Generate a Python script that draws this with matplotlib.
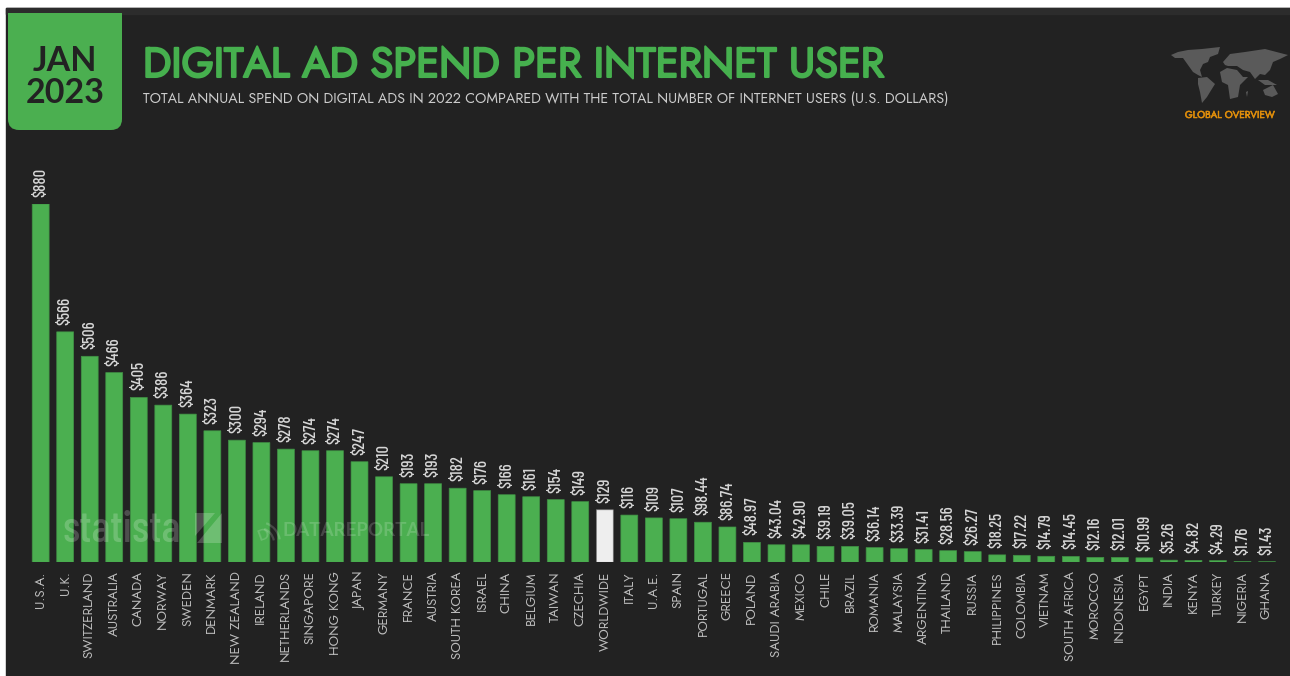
import matplotlib
matplotlib.use('Agg')
from matplotlib import pyplot as plt
from matplotlib import patheffects as pe
from matplotlib.patches import FancyBboxPatch, Polygon, Rectangle, Arc

countries = ['U.S.A.', 'U.K.', 'SWITZERLAND', 'AUSTRALIA', 'CANADA', 'NORWAY', 'SWEDEN',
             'DENMARK', 'NEW ZEALAND', 'IRELAND', 'NETHERLANDS', 'SINGAPORE', 'HONG KONG',
             'JAPAN', 'GERMANY', 'FRANCE', 'AUSTRIA', 'SOUTH KOREA', 'ISRAEL', 'CHINA',
             'BELGIUM', 'TAIWAN', 'CZECHIA', 'WORLDWIDE', 'ITALY', 'U.A.E.', 'SPAIN',
             'PORTUGAL', 'GREECE', 'POLAND', 'SAUDI ARABIA', 'MEXICO', 'CHILE', 'BRAZIL',
             'ROMANIA', 'MALAYSIA', 'ARGENTINA', 'THAILAND', 'RUSSIA', 'PHILIPPINES',
             'COLOMBIA', 'VIETNAM', 'SOUTH AFRICA', 'MOROCCO', 'INDONESIA', 'EGYPT',
             'INDIA', 'KENYA', 'TURKEY', 'NIGERIA', 'GHANA']
spend = [880, 566, 506, 466, 405, 386, 364, 323, 300, 294, 278, 274, 274, 247, 210, 193,
         193, 182, 176, 166, 161, 154, 149, 129, 116, 109, 107, 98.44, 86.74, 48.97, 43.04,
         42.90, 39.19, 39.05, 36.14, 33.39, 31.41, 28.56, 26.27, 18.25, 17.22, 14.79, 14.45,
         12.16, 12.01, 10.99, 5.26, 4.82, 4.29, 1.76, 1.43]

# rough continent outlines for the little map, in header pixels
north_america = [(1171, 55), (1178, 52), (1188, 50), (1202, 49), (1220, 47), (1218, 54), (1210, 57),
                 (1208, 62), (1203, 64), (1200, 70), (1202, 77), (1198, 75), (1193, 72), (1188, 65),
                 (1183, 58), (1175, 58)]
south_america = [(1198, 78), (1207, 77), (1215, 84), (1210, 92), (1207, 97), (1202, 103), (1200, 92), (1198, 84)]
africa = [(1220, 72), (1227, 68), (1237, 70), (1243, 77), (1248, 77), (1240, 85), (1238, 97), (1230, 99),
          (1228, 85), (1222, 82)]
eurasia = [(1223, 62), (1230, 54), (1245, 52), (1265, 49), (1288, 55), (1280, 59), (1273, 62), (1270, 70),
           (1265, 75), (1260, 74), (1255, 79), (1250, 72), (1243, 70), (1237, 66), (1228, 66), (1225, 65)]
australia = [(1263, 90), (1273, 85), (1278, 94), (1272, 97), (1265, 95)]
indonesia = [(1258, 80), (1268, 80), (1277, 85), (1265, 85)]
madagascar = [(1246, 92), (1248, 91), (1247, 97)]

BG = '#222222'
GREEN = '#4BAF50'
W, H = 1290, 676
SANS = ['Jost', 'Lato']
NUMS = ['Barlow Condensed', 'Liberation Sans']


def money(v):
    return f'${v:.0f}' if v >= 100 else f'${v:.2f}'


def fat(color, w):
    return [pe.withStroke(linewidth=w, foreground=color)]


fig = plt.figure(figsize=(W / 100, H / 100), dpi=100, facecolor='white')
fig.add_artist(Rectangle((6 / W, 0), 1, 1 - 8 / H, transform=fig.transFigure, color=BG, zorder=-2))
fig.add_artist(Rectangle((6 / W, 1 - 14 / H), 1, 6 / H, transform=fig.transFigure, color='#2c2c2c', zorder=-1))

# bar axes: index -0.5..50.5 across, 0..880 maps on to pixel rows 562..204
left, right = 28.4, 1279.3
base, top = 562.3, 204.0
ax = fig.add_axes([left / W, 1 - base / H, (right - left) / W, (base - top) / H], zorder=1)
ax.patch.set_alpha(0)
ax.set_xlim(-0.5, len(countries) - 0.5)
ax.set_ylim(0, 880)
for s in ax.spines.values():
    s.set_visible(False)
ax.yaxis.set_visible(False)

colors = ['#EEEEEE' if c == 'WORLDWIDE' else GREEN for c in countries]
edges = ['#777777' if c == 'WORLDWIDE' else '#3f8f44' for c in countries]
bars = ax.bar(range(len(countries)), spend, width=0.69, color=colors, edgecolor=edges, linewidth=0.5)
for b in bars:
    b.set_snap(False)

ax.set_xticks(range(len(countries)))
ax.set_xticklabels(countries, rotation=90, family=SANS, fontsize=9.6, color='#bcbcbc')
ax.tick_params(axis='x', length=0, pad=6.5)

for i, v in enumerate(spend):
    ax.annotate(money(v), (i, v), xytext=(0, 5), textcoords='offset points', rotation=90,
                ha='center', va='bottom', family=NUMS, weight='medium', fontsize=12, color='#d6d6d6',
                annotation_clip=False)

# header and watermarks live in a pixel-coordinate overlay
top_ax = fig.add_axes([0, 0, 1, 1], zorder=2)
top_ax.set_xlim(0, W)
top_ax.set_ylim(H, 0)
top_ax.patch.set_alpha(0)
top_ax.set_axis_off()

tag = FancyBboxPatch((8, -20), 114, 150, boxstyle='round,pad=0,rounding_size=11', color=GREEN, lw=0)
top_ax.add_patch(tag)
tag.set_clip_path(Rectangle((8, 13), 114, 120, transform=top_ax.transData))
top_ax.text(65, 71, 'JAN', ha='center', va='baseline', family='Lato', weight='bold', fontsize=24.5, color=BG)
top_ax.text(65, 103, '2023', ha='center', va='baseline', family='Lato', weight='bold', fontsize=24.5, color=BG)

top_ax.text(143, 77, 'DIGITAL AD SPEND PER INTERNET USER', ha='left', va='baseline', family=SANS,
            fontsize=30, color='#46B04E', path_effects=fat('#46B04E', 1.5))
top_ax.text(143, 103, 'TOTAL ANNUAL SPEND ON DIGITAL ADS IN 2022 COMPARED WITH THE TOTAL NUMBER OF INTERNET USERS (U.S. DOLLARS)',
            ha='left', va='baseline', family=SANS, fontsize=10.3, color='#cccccc')

for shape in [north_america, south_america, africa, eurasia, australia, indonesia, madagascar]:
    top_ax.add_patch(Polygon(shape, closed=True, color='#5a5a5a', lw=0))
top_ax.text(1229.5, 115, 'GLOBAL OVERVIEW', ha='center', va='center', family=SANS,
            fontsize=7.2, color='#E08E0B', path_effects=fat('#E08E0B', 0.4))

# faint statista / datareportal marks over the first bars
top_ax.text(63, 530, 'statista', ha='left', va='center', family=NUMS, weight='medium', fontsize=32,
            color='white', alpha=0.2)
top_ax.add_patch(Polygon([(195, 513), (215, 513), (195, 536)], closed=True, color='white', alpha=0.2, lw=0))
top_ax.add_patch(Polygon([(222, 513), (222, 543), (197, 543)], closed=True, color='white', alpha=0.2, lw=0))
top_ax.text(283, 531, 'DATAREPORTAL', ha='left', va='center', family='Lato', weight='bold', fontsize=13.5,
            color='white', alpha=0.17)
top_ax.text(264, 535, 'D', ha='center', va='center', rotation=20, family='Lato', weight='bold', fontsize=11,
            color='white', alpha=0.17)
for r in (30, 42):
    top_ax.add_patch(Arc((259, 543), r, r, theta1=290, theta2=350, color='white', alpha=0.17, lw=1.6))

fig.savefig('out.png', dpi=100, facecolor='white')
